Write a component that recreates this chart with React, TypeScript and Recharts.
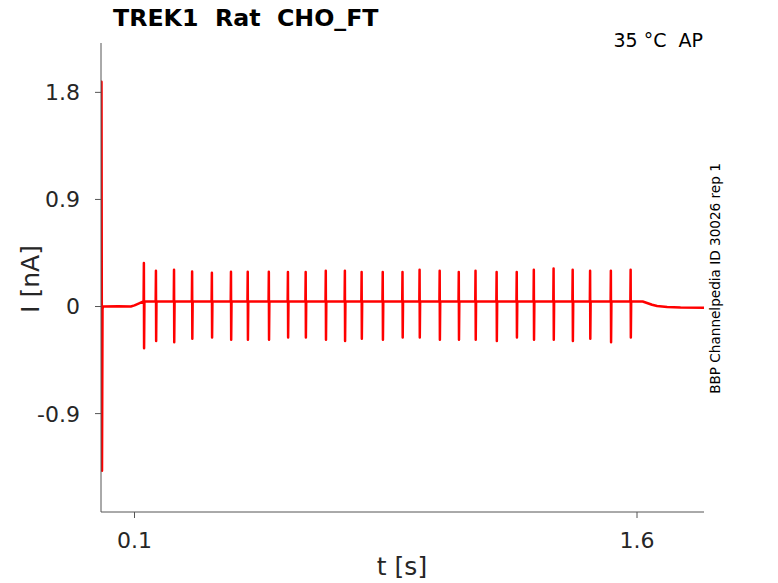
import { Line, LineChart, XAxis, YAxis } from "recharts";

const TRACE_COLOR = "#ff0000";
const AXIS_COLOR = "#555555";
const TEXT_COLOR = "#262626";
const FONT = "'DejaVu Sans', sans-serif";

// holding current before/after the train (s, nA)
const BASE_T = [0, 0.0045, 0.006, 0.05, 0.089, 0.1, 0.112, 0.125, 1.617, 1.63, 1.645, 1.66, 1.69, 1.73, 1.8];
const BASE_I = [-0.05, -0.02, 0, 0.002, 0, 0.01, 0.025, 0.042, 0.042, 0.03, 0.015, 0.005, -0.003, -0.008, -0.01];

// capacitive transient right at the start
const ONSET_T = [0.0015, 0.003];
const ONSET_I = [1.89, -1.38];

const PLATEAU = 0.042;

// spike train
const SPIKE_T = [
  0.128, 0.164, 0.218, 0.272, 0.331, 0.388, 0.438, 0.501, 0.558, 0.611, 0.671, 0.728, 0.778, 0.841,
  0.9, 0.951, 1.011, 1.068, 1.118, 1.181, 1.241, 1.292, 1.351, 1.408, 1.46, 1.522, 1.581,
];
const SPIKE_PEAK = [
  0.365, 0.3, 0.31, 0.295, 0.283, 0.292, 0.292, 0.292, 0.29, 0.29, 0.3, 0.3, 0.29, 0.29, 0.29, 0.31,
  0.3, 0.29, 0.3, 0.29, 0.29, 0.31, 0.32, 0.31, 0.3, 0.3, 0.31,
];
const SPIKE_TROUGH = [
  -0.35, -0.29, -0.3, -0.27, -0.26, -0.28, -0.28, -0.28, -0.26, -0.26, -0.28, -0.29, -0.27, -0.28,
  -0.26, -0.26, -0.28, -0.28, -0.28, -0.29, -0.26, -0.28, -0.28, -0.29, -0.27, -0.3, -0.26,
];

const X_TICKS = [0.1, 1.6];
const Y_TICKS = [-0.9, 0, 0.9, 1.8];

const trace = (() => {
  const pts: { t: number; i: number }[] = [];
  BASE_T.forEach((t, k) => pts.push({ t, i: BASE_I[k] }));
  ONSET_T.forEach((t, k) => pts.push({ t, i: ONSET_I[k] }));
  SPIKE_T.forEach((t, k) => {
    pts.push({ t: t - 0.0008, i: PLATEAU });
    pts.push({ t, i: SPIKE_PEAK[k] });
    pts.push({ t: t + 0.0006, i: SPIKE_TROUGH[k] });
    pts.push({ t: t + 0.0016, i: PLATEAU });
  });
  return pts.sort((a, b) => a.t - b.t);
})();

const W = 778;
const H = 583;
const PLOT_LEFT = 101;
const PLOT_RIGHT = 704;
const PLOT_TOP = 43;
const PLOT_BOTTOM = 512;
const Y_AXIS_W = 60;
const X_AXIS_H = 40;

function XTick(props: any) {
  const { x, y, payload } = props;
  return (
    <g>
      <line x1={x} x2={x} y1={y} y2={y - 6} stroke={AXIS_COLOR} strokeWidth={1} />
      <text x={x} y={y + 30} textAnchor="middle" fontSize={22} fontFamily={FONT} fill={TEXT_COLOR}>
        {payload.value}
      </text>
    </g>
  );
}

function YTick(props: any) {
  const { x, y, payload } = props;
  const ax = x + 15;
  return (
    <g>
      <line x1={ax} x2={ax + 6} y1={y} y2={y} stroke={AXIS_COLOR} strokeWidth={1} />
      <text x={x} y={y} dy="0.36em" textAnchor="end" fontSize={22} fontFamily={FONT} fill={TEXT_COLOR}>
        {payload.value}
      </text>
    </g>
  );
}

export default function App() {
  return (
    <div style={{ position: "absolute", left: 0, top: 0, width: W, height: H, background: "#fff" }}>
      <LineChart
        width={W}
        height={H}
        data={trace}
        margin={{
          top: PLOT_TOP,
          right: W - PLOT_RIGHT,
          left: PLOT_LEFT - Y_AXIS_W,
          bottom: H - PLOT_BOTTOM - X_AXIS_H,
        }}
      >
        <XAxis
          dataKey="t"
          type="number"
          domain={[0, 1.8]}
          ticks={X_TICKS}
          allowDataOverflow
          height={X_AXIS_H}
          tickLine={false}
          tickMargin={0}
          axisLine={{ stroke: AXIS_COLOR }}
          tick={(p: any) => <XTick {...p} />}
        />
        <YAxis
          type="number"
          domain={[-1.727, 2.215]}
          ticks={Y_TICKS}
          allowDataOverflow
          width={Y_AXIS_W}
          tickLine={false}
          tickMargin={15}
          axisLine={{ stroke: AXIS_COLOR }}
          tick={(p: any) => <YTick {...p} />}
        />
        <Line
          dataKey="i"
          type="linear"
          stroke={TRACE_COLOR}
          strokeWidth={2.5}
          strokeLinejoin="round"
          dot={false}
          isAnimationActive={false}
        />
      </LineChart>
      <svg
        width={W}
        height={H}
        style={{ position: "absolute", left: 0, top: 0, pointerEvents: "none" }}
      >
        <text
          x={113}
          y={26}
          fontSize={23.7}
          fontWeight="bold"
          fontFamily={FONT}
          fill="#000"
          style={{ whiteSpace: "pre" }}
        >
          {"TREK1  Rat  CHO_FT"}
        </text>
        <text
          x={703}
          y={47}
          textAnchor="end"
          fontSize={19}
          fontFamily={FONT}
          fill="#000"
          style={{ whiteSpace: "pre" }}
        >
          {"35 °C  AP"}
        </text>
        <text
          transform="translate(720 278.5) rotate(-90)"
          textAnchor="middle"
          fontSize={13.6}
          fontFamily={FONT}
          fill="#000"
        >
          BBP Channelpedia ID 30026 rep 1
        </text>
        <text
          transform="translate(39 279) rotate(-90)"
          textAnchor="middle"
          fontSize={25}
          fontFamily={FONT}
          fill={TEXT_COLOR}
        >
          I [nA]
        </text>
        <text x={402} y={575} textAnchor="middle" fontSize={25} fontFamily={FONT} fill={TEXT_COLOR}>
          t [s]
        </text>
      </svg>
    </div>
  );
}
